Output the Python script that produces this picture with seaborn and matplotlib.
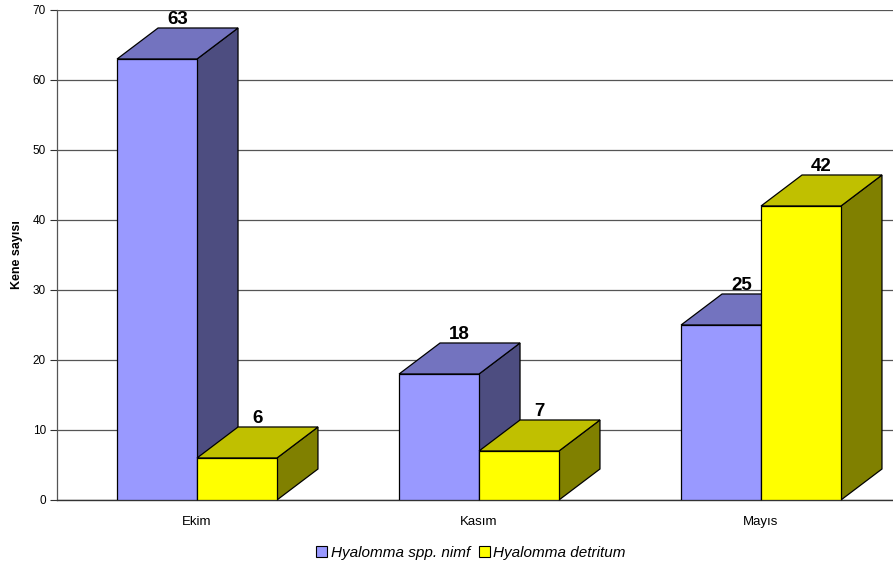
import matplotlib
matplotlib.use("Agg")
import matplotlib.pyplot as plt
from matplotlib.patches import Polygon, Patch
import seaborn as sns
import pandas as pd

# Monthly tick counts per group
months = ["Ekim", "Kasım", "Mayıs"]
series_names = ["Hyalomma spp. nimf", "Hyalomma detritum"]
nimf_counts = [63, 18, 25]
detritum_counts = [6, 7, 42]
y_ticks = [0, 10, 20, 30, 40, 50, 60, 70]

front_colors = ["#9999FF", "#FFFF00"]
top_colors = ["#7373BF", "#C0C000"]
side_colors = ["#4D4D80", "#808000"]

df = pd.DataFrame({
    "month": months * 2,
    "group": [series_names[0]] * 3 + [series_names[1]] * 3,
    "count": nimf_counts + detritum_counts,
})

sns.set_style("white")
plt.rcParams["font.family"] = ["Liberation Sans", "DejaVu Sans"]
plt.rcParams["text.color"] = "black"
plt.rcParams["axes.labelcolor"] = "black"
plt.rcParams["xtick.color"] = "black"
plt.rcParams["ytick.color"] = "black"

fig = plt.figure(figsize=(8.93, 5.70), dpi=100)
ax = fig.add_axes([57 / 893, 1 - 500 / 570, 1 - 57 / 893, 490 / 570])

sns.barplot(data=df, x="month", y="count", hue="group", order=months,
            hue_order=series_names, palette=front_colors, width=0.567,
            edgecolor="black", linewidth=0.9, saturation=1, legend=False,
            ax=ax)

# depth of the pseudo-3D extrusion in data units
dx = 0.1454
dy = 4.43

values = [nimf_counts, detritum_counts]
for h, name in enumerate(series_names):
    container = ax.containers[h]
    for c, bar in enumerate(container.patches):
        x0 = bar.get_x()
        x1 = x0 + bar.get_width()
        val = bar.get_height()
        z = 3 + c * 3 + h * 1.5
        bar.set_zorder(z + 0.5)
        top = Polygon([(x0, val), (x0 + dx, val + dy), (x1 + dx, val + dy), (x1, val)],
                      closed=True, facecolor=top_colors[h], edgecolor="black",
                      linewidth=0.9, zorder=z, clip_on=False)
        side = Polygon([(x1, 0), (x1, val), (x1 + dx, val + dy), (x1 + dx, dy)],
                       closed=True, facecolor=side_colors[h], edgecolor="black",
                       linewidth=0.9, zorder=z, clip_on=False)
        ax.add_patch(side)
        ax.add_patch(top)
        ax.text((x0 + x1) / 2 + dx / 2, val + dy + 0.05, str(values[h][c]),
                ha="center", va="bottom", fontsize=13.5, fontweight="bold",
                color="black", zorder=20)

ax.set_xlim(-0.4965, 2.468)
ax.set_ylim(0, 70)
ax.set_yticks(y_ticks)
ax.set_yticklabels([str(t) for t in y_ticks], fontsize=8.5)
ax.tick_params(axis="y", which="both", left=True, length=5, width=0.8,
               color="#333333", pad=3)
ax.tick_params(axis="x", bottom=False, labelsize=9.5, pad=8)
ax.yaxis.grid(True, color="#555555", linewidth=0.9, zorder=0)
ax.set_axisbelow(True)

for s in ["top", "right"]:
    ax.spines[s].set_visible(False)
ax.spines["left"].set_color("#555555")
ax.spines["left"].set_linewidth(0.9)
ax.spines["bottom"].set_color("#333333")
ax.spines["bottom"].set_linewidth(1.0)

ax.set_xlabel("")
ax.set_ylabel("Kene sayısı", fontsize=9, fontweight="bold", labelpad=7)

handles = [Patch(facecolor=front_colors[i], edgecolor="black", linewidth=0.8)
           for i in range(2)]
fig.legend(handles, series_names, loc="center", bbox_to_anchor=(471 / 893, 1 - 553 / 570),
           ncol=2, frameon=False, prop={"style": "italic", "size": 11},
           handlelength=0.75, handleheight=0.75, handletextpad=0.2,
           columnspacing=0.6)

fig.savefig("out.png", dpi=100)
